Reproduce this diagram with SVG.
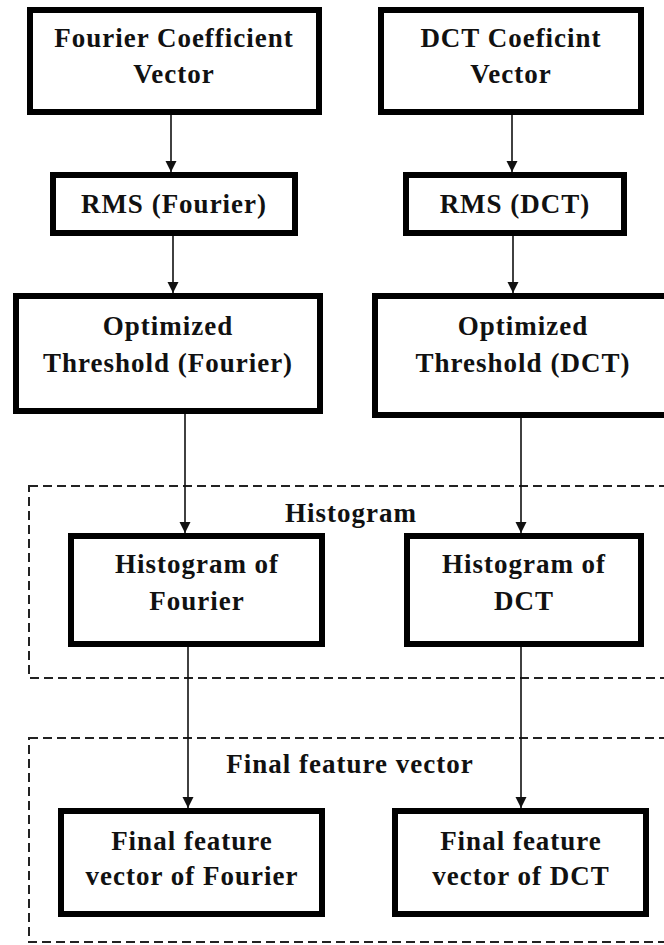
<svg xmlns="http://www.w3.org/2000/svg" width="664" height="945" viewBox="0 0 664 945">
<style>
.box{fill:#fff;stroke:#000;stroke-width:6}
.grp{fill:none;stroke:#222;stroke-width:2;stroke-dasharray:9 5}
.t{font-family:"Liberation Serif","Times New Roman",serif;font-weight:bold;font-size:27px;letter-spacing:1px;fill:#111;text-anchor:middle}
.c{stroke:#111;stroke-width:1.6;fill:none}
</style>
<defs>
<marker id="ah" markerUnits="userSpaceOnUse" markerWidth="14" markerHeight="14" refX="11" refY="5.5" orient="auto">
<path d="M0,0 L11,5.5 L0,11 Z" fill="#111"/>
</marker>
</defs>
<rect width="664" height="945" fill="#fff"/>
<g id="group-histogram">
<rect class="grp" x="29" y="486" width="700" height="192"/>
<text class="t" x="351" y="522">Histogram</text>
</g>
<g id="group-final">
<rect class="grp" x="29" y="738" width="700" height="204"/>
<text class="t" x="350" y="773">Final feature vector</text>
</g>
<g id="connectors">
<line class="c" x1="171" y1="115" x2="171" y2="172" marker-end="url(#ah)"/>
<line class="c" x1="512" y1="115" x2="512" y2="172" marker-end="url(#ah)"/>
<line class="c" x1="173" y1="236" x2="173" y2="293" marker-end="url(#ah)"/>
<line class="c" x1="513" y1="236" x2="513" y2="293" marker-end="url(#ah)"/>
<line class="c" x1="185" y1="414" x2="185" y2="533" marker-end="url(#ah)"/>
<line class="c" x1="521" y1="418" x2="521" y2="533" marker-end="url(#ah)"/>
<line class="c" x1="188" y1="647" x2="188" y2="808" marker-end="url(#ah)"/>
<line class="c" x1="521" y1="647" x2="521" y2="808" marker-end="url(#ah)"/>
</g>
<g id="fourier-coef">
<rect class="box" x="30" y="10" width="289" height="102"/>
<text class="t" x="174" y="47">Fourier Coefficient</text>
<text class="t" x="174" y="83">Vector</text>
</g>
<g id="dct-coef">
<rect class="box" x="381" y="10" width="260" height="102"/>
<text class="t" x="511" y="47">DCT Coeficint</text>
<text class="t" x="511" y="83">Vector</text>
</g>
<g id="rms-fourier">
<rect class="box" x="53" y="175" width="242" height="58"/>
<text class="t" x="174" y="213">RMS (Fourier)</text>
</g>
<g id="rms-dct">
<rect class="box" x="406" y="175" width="218" height="58"/>
<text class="t" x="515" y="213">RMS (DCT)</text>
</g>
<g id="opt-fourier">
<rect class="box" x="16" y="296" width="304" height="115"/>
<text class="t" x="168" y="335">Optimized</text>
<text class="t" x="168" y="372">Threshold (Fourier)</text>
</g>
<g id="opt-dct">
<rect class="box" x="375" y="296" width="294" height="119"/>
<text class="t" x="523" y="335">Optimized</text>
<text class="t" x="523" y="372">Threshold (DCT)</text>
</g>
<g id="hist-fourier">
<rect class="box" x="71" y="536" width="251" height="108"/>
<text class="t" x="197" y="573">Histogram of</text>
<text class="t" x="197" y="610">Fourier</text>
</g>
<g id="hist-dct">
<rect class="box" x="407" y="536" width="234" height="108"/>
<text class="t" x="524" y="573">Histogram of</text>
<text class="t" x="524" y="610">DCT</text>
</g>
<g id="final-fourier">
<rect class="box" x="61" y="811" width="261" height="103"/>
<text class="t" x="192" y="850">Final feature</text>
<text class="t" x="192" y="885">vector of Fourier</text>
</g>
<g id="final-dct">
<rect class="box" x="395" y="811" width="251" height="103"/>
<text class="t" x="521" y="850">Final feature</text>
<text class="t" x="521" y="885">vector of DCT</text>
</g>
</svg>
